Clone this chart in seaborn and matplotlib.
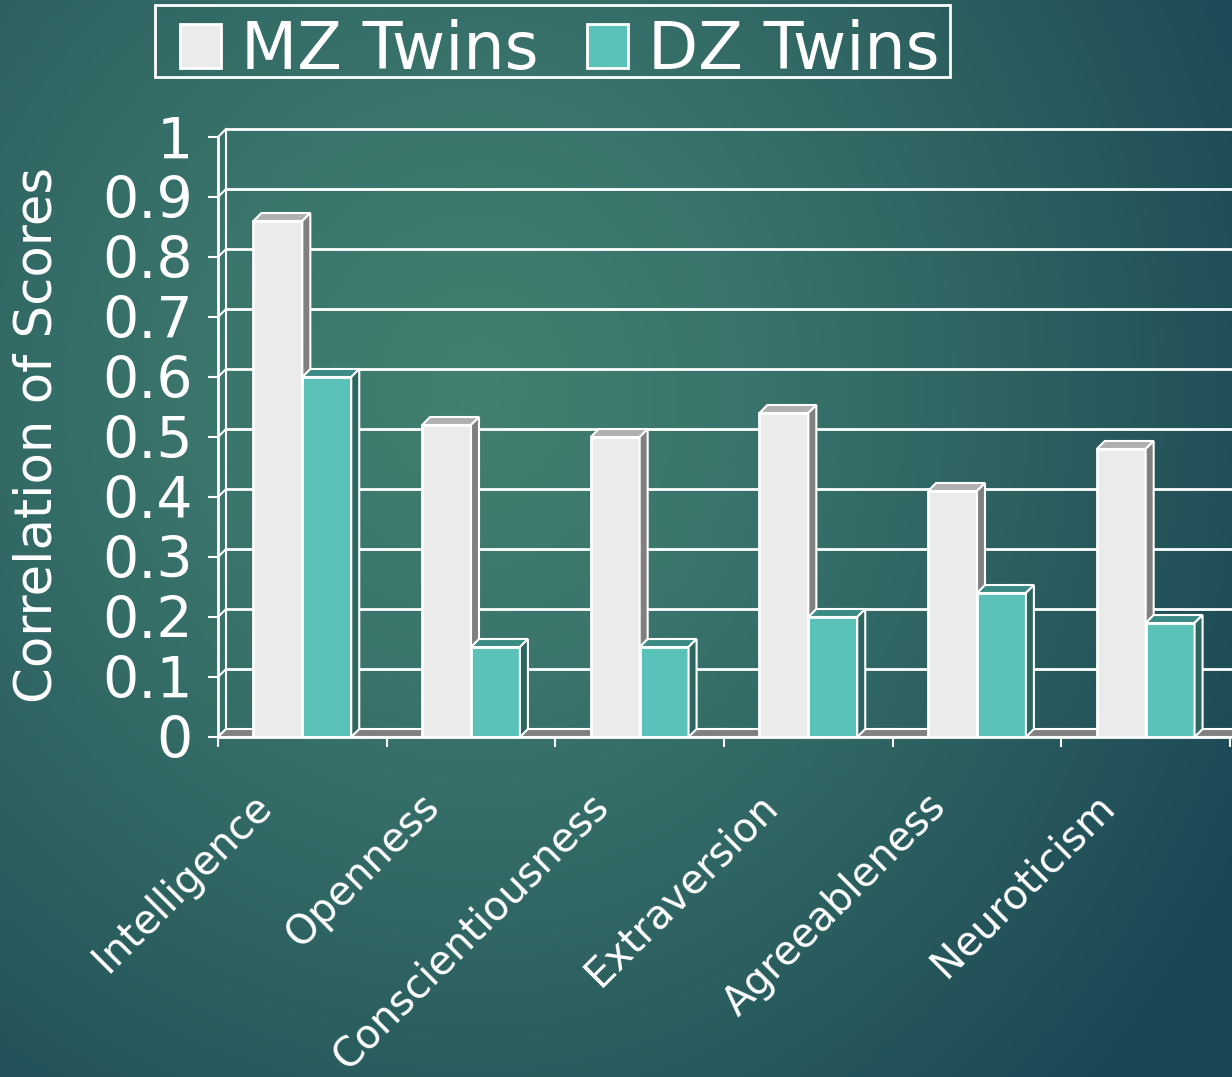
import numpy as np
import pandas as pd
import seaborn as sns
import matplotlib.pyplot as plt
import matplotlib.patches as mpatches
from matplotlib.transforms import ScaledTranslation
from matplotlib.colors import to_rgb

# chart values
traits = ['Intelligence', 'Openness', 'Conscientiousness',
          'Extraversion', 'Agreeableness', 'Neuroticism']
mz = [0.86, 0.52, 0.50, 0.54, 0.41, 0.48]
dz = [0.60, 0.15, 0.15, 0.20, 0.24, 0.19]
groups = ['MZ Twins', 'DZ Twins']
yticks = np.round(np.arange(0, 1.01, 0.1), 1)

df = pd.DataFrame({
    'trait': traits * 2,
    'corr': mz + dz,
    'twin': [groups[0]] * len(traits) + [groups[1]] * len(traits),
})

front_col = {'MZ Twins': '#ebebeb', 'DZ Twins': '#5bc2b9'}
top_col = {'MZ Twins': '#b0b0b0', 'DZ Twins': '#3b8a84'}
side_col = {'MZ Twins': '#808080', 'DZ Twins': '#2d6661'}

W, H = 1232, 1077
fig = plt.figure(figsize=(W / 100, H / 100), dpi=100)

# background gradient
yy, xx = np.mgrid[0:H, 0:W]
ddx = np.where(xx > 480, (xx - 480) * 1.15, (xx - 480))
d = np.sqrt(ddx ** 2 + (yy - 390) ** 2)
stops = [0, 300, 650, 1000]
cols = [to_rgb(c) for c in ['#42806f', '#3a746c', '#2b5f5f', '#1b4655']]
img = np.stack([np.interp(d, stops, [c[i] for c in cols]) for i in range(3)], axis=-1)
bg = fig.add_axes([0, 0, 1, 1], zorder=-10)
bg.imshow(img, aspect='auto')
bg.axis('off')

ax = fig.add_axes([218 / W, 340 / H, 1012 / W, 600 / H])
ax.set_facecolor('none')

sns.barplot(data=df, x='trait', y='corr', hue='twin', palette=front_col,
            width=0.58, saturation=1, edgecolor='white', linewidth=2,
            legend=False, ax=ax)
ax.set_xlim(-0.5, 5.5)
ax.set_ylim(0, 1)

# depth of the fake 3d in data units
D = 8
p0 = ax.transData.transform((0, 0))
p1 = ax.transData.transform((1, 1))
dx = D / (p1[0] - p0[0])
dy = D / (p1[1] - p0[1])

# back wall grid, connectors and floor
for v in yticks:
    ax.plot([-0.5 + dx, 6.2], [v + dy, v + dy], color='white', lw=2, zorder=1, clip_on=False)
    ax.plot([-0.5, -0.5 + dx], [v, v + dy], color='white', lw=1.5, zorder=1, clip_on=False)
ax.plot([-0.5 + dx, -0.5 + dx], [dy, 1 + dy], color='white', lw=1.5, zorder=1, clip_on=False)
ax.add_patch(mpatches.Polygon([(-0.5, 0), (6.2, 0), (6.2 + dx, dy), (-0.5 + dx, dy)],
                              closed=True, facecolor='#808080', edgecolor='white',
                              lw=1.5, zorder=1.5, clip_on=False))

# tops and sides of the bars
for k, (cont, g) in enumerate(zip(ax.containers, groups)):
    for bar in cont:
        bar.set_zorder(3 + k)
        x0 = bar.get_x()
        x1 = x0 + bar.get_width()
        h = bar.get_height()
        top = [(x0, h), (x1, h), (x1 + dx, h + dy), (x0 + dx, h + dy)]
        side = [(x1, 0), (x1 + dx, dy), (x1 + dx, h + dy), (x1, h)]
        ax.add_patch(mpatches.Polygon(top, closed=True, facecolor=top_col[g],
                                      edgecolor='white', lw=1.5, zorder=3 + k, clip_on=False))
        ax.add_patch(mpatches.Polygon(side, closed=True, facecolor=side_col[g],
                                      edgecolor='white', lw=1.5, zorder=3 + k, clip_on=False))

for s in ['top', 'right']:
    ax.spines[s].set_visible(False)
for s in ['left', 'bottom']:
    ax.spines[s].set_color('white')
    ax.spines[s].set_linewidth(2)
    ax.spines[s].set_zorder(6)

ax.set_yticks(yticks)
ax.set_yticklabels([f'{v:g}' for v in yticks])
ax.tick_params(axis='y', colors='white', labelsize=41, length=7, width=1.5, pad=11)

ax.set_xticks(np.arange(-0.5, 6, 1), minor=True)
ax.set_xticks(range(len(traits)))
ax.set_xticklabels(traits)
ax.tick_params(axis='x', which='minor', colors='white', length=7, width=1.5)
ax.tick_params(axis='x', which='major', length=0, pad=0, labelcolor='white', labelsize=29)
offset = ScaledTranslation(-0.37, -0.63, fig.dpi_scale_trans)
for lab in ax.get_xticklabels():
    lab.set_rotation(45)
    lab.set_ha('right')
    lab.set_va('center')
    lab.set_rotation_mode('anchor')
    lab.set_transform(lab.get_transform() + offset)

ax.set_xlabel('')
ax.set_ylabel('')
fig.text(38 / W, 1 - 435 / H, 'Correlation of Scores', rotation=90,
         ha='center', va='center', color='white', fontsize=37)

# legend, with its own tighter frame
handles = [mpatches.Patch(facecolor=front_col[g], edgecolor='white', lw=2) for g in groups]
leg = fig.legend(handles, groups, loc='upper left', bbox_to_anchor=(180 / W, 1 - 19 / H),
                 ncol=2, frameon=False, fontsize=47, handlelength=0.63, handleheight=0.66,
                 handletextpad=0.3, columnspacing=0.75, borderpad=0, borderaxespad=0,
                 labelcolor='white')
fig.patches.append(mpatches.Rectangle((155 / W, 1 - 77 / H), 795 / W, 72 / H,
                                      transform=fig.transFigure, facecolor='none',
                                      edgecolor='white', lw=2))

fig.savefig('out.png', dpi=100)
